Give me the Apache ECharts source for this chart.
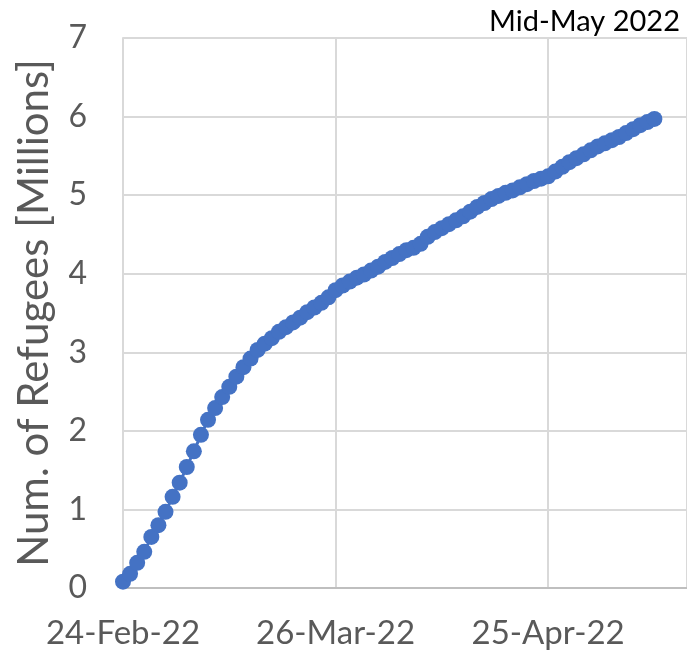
<!DOCTYPE html>
<html>

<head>
  <meta charset="utf-8">
  <title>Refugees</title>
  <script src="https://cdn.jsdelivr.net/npm/echarts@6/dist/echarts.min.js"></script>
</head>

<body style="margin:0">
  <div id="main" style="width: 687px;height:656px;"></div>
  <script type="text/javascript">
    // days since 24-Feb-22 (one point per day)
    var days = [];
    // refugees, millions
    var refugees = [
      0.08, 0.18, 0.32, 0.46, 0.65, 0.80, 0.97, 1.16, 1.34, 1.54,
      1.74, 1.95, 2.14, 2.29, 2.43, 2.56, 2.69, 2.81, 2.92, 3.03,
      3.11, 3.18, 3.26, 3.32, 3.38, 3.44, 3.51, 3.57, 3.63, 3.70,
      3.79, 3.85, 3.90, 3.95, 3.99, 4.04, 4.09, 4.15, 4.20, 4.25,
      4.30, 4.33, 4.38, 4.47, 4.53, 4.58, 4.63, 4.68, 4.73, 4.79,
      4.85, 4.90, 4.95, 4.99, 5.03, 5.06, 5.10, 5.14, 5.18, 5.21,
      5.24, 5.30, 5.36, 5.42, 5.47, 5.52, 5.57, 5.62, 5.66, 5.70,
      5.74, 5.79, 5.84, 5.89, 5.93, 5.97
    ];
    // x tick labels every 30 days
    var tickDays = [0, 30, 60];
    var tickLabels = ['24-Feb-22', '26-Mar-22', '25-Apr-22'];

    for (var i = 0; i < refugees.length; i++) {
      days.push(i);
    }
    var points = days.map(function (d, i) { return [d, refugees[i]]; });

    var myChart = echarts.init(document.getElementById('main'));
    var font = 'Lato';
    var option = {
      animation: false,
      title: {
        text: 'Mid-May 2022',
        right: 2,
        top: 2,
        textStyle: { fontFamily: font, fontSize: 29, fontWeight: 'normal', color: '#000' }
      },
      grid: { left: 123, right: 0, top: 38, bottom: 68, outerBoundsMode: 'none' },
      xAxis: {
        type: 'value',
        min: 0,
        max: 79.6,
        interval: 30,
        axisLine: { show: true, lineStyle: { color: '#bfbfbf', width: 2 } },
        axisTick: { show: false },
        splitLine: { show: true, lineStyle: { color: '#d9d9d9', width: 2 } },
        axisLabel: {
          fontFamily: font, fontSize: 33, color: '#595959', margin: 29,
          showMaxLabel: false,
          formatter: function (v) {
            var k = tickDays.indexOf(v);
            return k >= 0 ? tickLabels[k] : '';
          }
        }
      },
      yAxis: {
        type: 'value',
        min: 0,
        max: 7,
        interval: 1,
        name: 'Num. of Refugees [Millions]',
        nameLocation: 'middle',
        nameGap: 68,
        nameTextStyle: { fontFamily: font, fontSize: 42, color: '#595959' },
        axisLine: { show: true, lineStyle: { color: '#d9d9d9', width: 2 } },
        axisTick: { show: false },
        splitLine: { lineStyle: { color: '#d9d9d9', width: 2 } },
        axisLabel: { fontFamily: font, fontSize: 32, color: '#595959', margin: 36 }
      },
      series: [{
        type: 'line',
        data: points,
        symbol: 'circle',
        symbolSize: 16,
        showAllSymbol: true,
        color: '#4472c4',
        lineStyle: { width: 3, color: '#4472c4' }
      }]
    };

    myChart.setOption(option);
  </script>
</body>

</html>
